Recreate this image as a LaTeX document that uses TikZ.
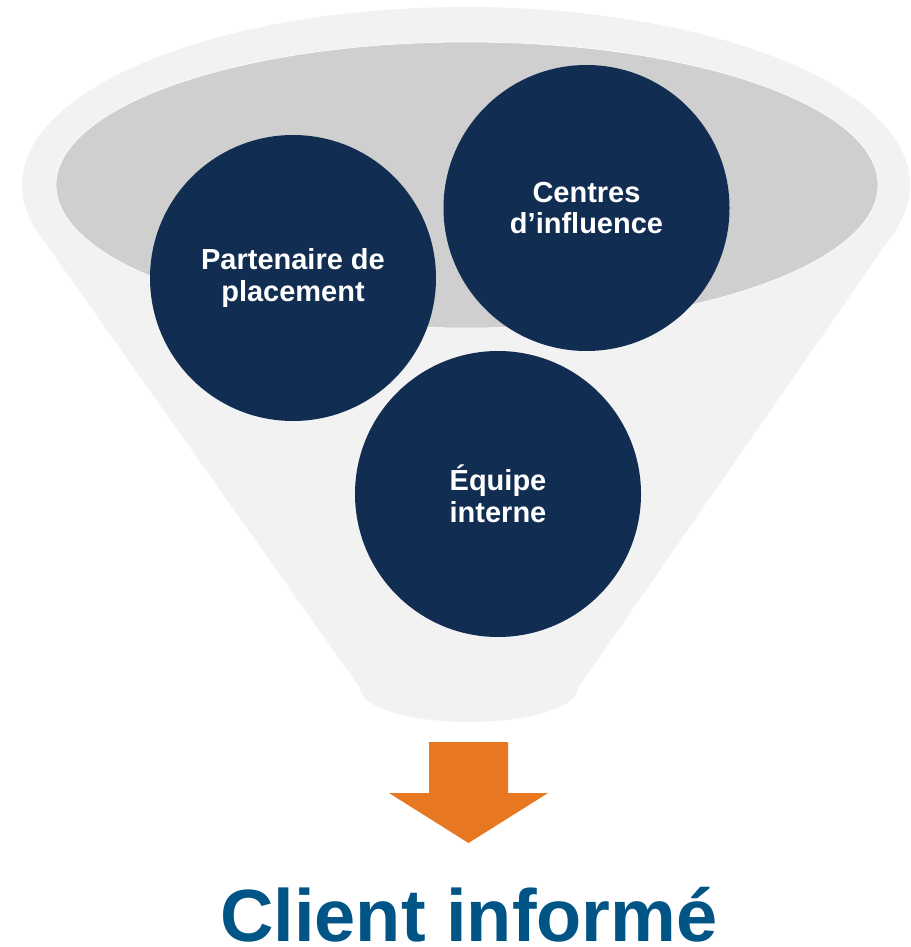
\documentclass[tikz,border=0pt]{standalone}
\usepackage{fontspec}
\setmainfont{Liberation Sans}
\begin{document}
\definecolor{funnelouter}{RGB}{242,242,242}
\definecolor{funnelinner}{RGB}{207,207,207}
\definecolor{navy}{RGB}{17,45,81}
\definecolor{titleblue}{RGB}{0,84,134}
\definecolor{arroworange}{RGB}{232,119,34}
\begin{tikzpicture}[x=1pt,y=1pt,
  ball/.style={circle,fill=navy,minimum size=286pt,inner sep=0pt,
    text=white,align=center,font=\bfseries\fontsize{29}{31.5}\selectfont},
  title/.style={text=titleblue,anchor=base,inner sep=0pt,
    font=\bfseries\fontsize{74}{80}\selectfont}]
  \useasboundingbox (0,0) rectangle (910,-947);

  % funnel body: rim ellipse plus sides tangent to it, rounded bottom
  \fill[funnelouter] (466,-185) ellipse[x radius=444,y radius=178];
  \fill[funnelouter] (38.6,-233.3) -- (360,-688)
    arc[start angle=180,end angle=360,x radius=109,y radius=34]
    -- (893.8,-232.7) -- cycle;

  % opening of the funnel
  \fill[funnelinner,draw=white,line width=0.6pt]
    (467,-185) ellipse[x radius=411,y radius=143];

  % sources
  \node[ball] (partner) at (293,-278) {Partenaire de\\placement};
  \node[ball] (centres) at (586.5,-208) {Centres\\d’influence};
  \node[ball] (team) at (498,-494) {Équipe\\interne};

  % down arrow
  \fill[arroworange] (429,-742) -- (508,-742) -- (508,-793) -- (548,-793)
    -- (468.5,-843) -- (389,-793) -- (429,-793) -- cycle;

  % result
  \node[title] (client) at (469,-941) {Client informé};
\end{tikzpicture}
\end{document}
